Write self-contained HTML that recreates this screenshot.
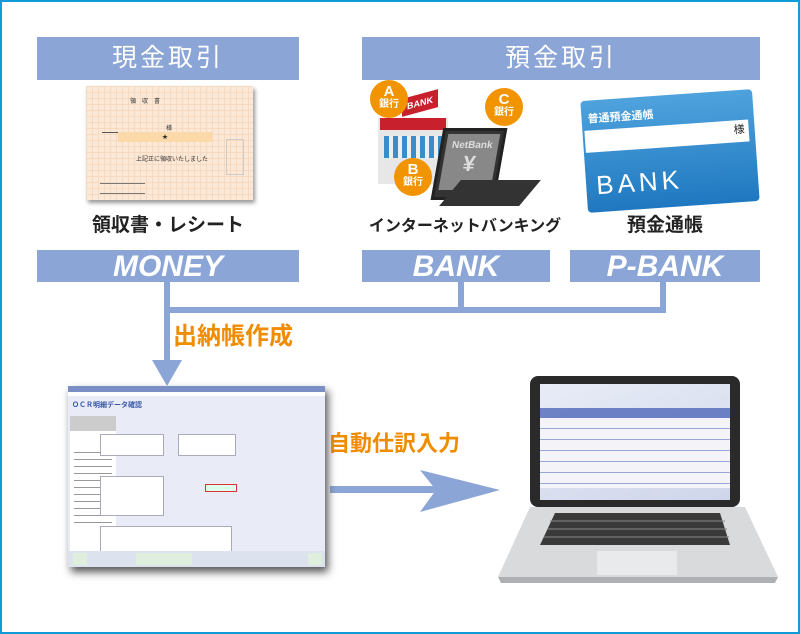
<!DOCTYPE html>
<html><head><meta charset="utf-8"><style>
body{margin:0;width:800px;height:634px;overflow:hidden;background:#fff;font-family:"Liberation Sans","Noto Sans CJK JP",sans-serif}
.f{position:absolute;left:0;top:0;width:796px;height:630px;border:2px solid #0f9bd7;}
.a{position:absolute}
.bar{position:absolute;background:#8ba5d6;color:#fff;text-align:center}
.t{position:absolute;font-weight:bold;color:#222;font-size:19px;text-align:center}
.badge{position:absolute;width:38px;height:38px;border-radius:50%;background:#f29400;color:#fff;font-weight:bold;text-align:center;font-size:10px;line-height:11px;padding-top:4px;box-sizing:border-box}
.badge b{font-size:15px;display:block;line-height:15px}
</style></head><body>
<div class="f"></div>
<div class="bar" style="left:37px;top:37px;width:262px;height:43px;font-size:25px;line-height:43px;letter-spacing:3px">現金取引</div>
<div class="bar" style="left:362px;top:37px;width:398px;height:43px;font-size:25px;line-height:43px;letter-spacing:3px">預金取引</div>

<!-- receipt -->
<div class="a" style="left:86px;top:86px;width:167px;height:114px;background:#fbe8d6;box-shadow:2px 3px 4px #999;background-image:linear-gradient(#f5d9c0 1px,transparent 1px),linear-gradient(90deg,#f5d9c0 1px,transparent 1px);background-size:6px 6px;font-size:6px;color:#333">
<div class="a" style="left:44px;top:10px">領　収　書</div>
<div class="a" style="left:16px;top:37px;width:70px;border-bottom:1px solid #555;text-align:right">様</div>
<div class="a" style="left:32px;top:46px;width:94px;height:10px;background:#fbd9a8;text-align:center">★</div>
<div class="a" style="left:50px;top:68px">上記正に領収いたしました</div>
<div class="a" style="left:140px;top:53px;width:16px;height:34px;border:1px solid #ccc"></div>
<div class="a" style="left:14px;top:92px;width:45px;border-bottom:1px solid #777;height:5px"></div>
<div class="a" style="left:14px;top:102px;width:45px;border-bottom:1px solid #777;height:5px"></div>
</div>

<!-- bank icons -->
<div class="a" style="left:378px;top:118px;width:70px;height:66px;background:#e7e7e7"></div>
<div class="a" style="left:380px;top:118px;width:66px;height:12px;background:#c8202c"></div>
<div class="a" style="left:384px;top:136px;width:58px;height:22px;background:repeating-linear-gradient(90deg,#3a8dc8 0 5px,#eee 5px 9px)"></div>
<div class="a" style="left:402px;top:94px;width:36px;height:18px;background:#c8202c;color:#fff;font-size:9px;font-weight:bold;text-align:center;line-height:18px;transform:skewY(-15deg)">BANK</div>
<div class="a" style="left:437px;top:128px;width:58px;height:66px;background:#333;transform:skewX(-10deg);border:3px solid #222"><div style="margin:3px;height:56px;background:#888;color:#ddd;font-size:10px;font-weight:bold;text-align:center;padding-top:6px;box-sizing:border-box">NetBank<br><span style="font-size:22px">¥</span></div></div>
<div class="a" style="left:450px;top:180px;width:80px;height:26px;background:#333;transform:skewX(-40deg)"></div>
<div class="badge" style="left:370px;top:80px"><b>A</b>銀行</div>
<div class="badge" style="left:485px;top:88px"><b>C</b>銀行</div>
<div class="badge" style="left:394px;top:158px"><b>B</b>銀行</div>

<!-- passbook -->
<div class="a" style="left:584px;top:95px;width:172px;height:112px;background:linear-gradient(#4fa3dd,#1f78c0);border-radius:4px;transform:rotate(-4deg);color:#fff">
<div class="a" style="left:6px;top:10px;font-size:11px;font-weight:bold">普通預金通帳</div>
<div class="a" style="left:2px;top:30px;width:164px;height:22px;background:#fff;color:#222;font-size:11px;text-align:right;line-height:20px;padding-right:4px;box-sizing:border-box">様</div>
<div class="a" style="left:10px;top:70px;font-size:26px;letter-spacing:4px">BANK</div>
</div>

<div class="t" style="left:37px;top:210px;width:262px">領収書・レシート</div>
<div class="t" style="left:355px;top:212px;width:220px;font-size:16px">インターネットバンキング</div>
<div class="t" style="left:580px;top:210px;width:170px">預金通帳</div>

<div class="bar" style="left:37px;top:250px;width:262px;height:32px;font-size:30px;font-weight:bold;font-style:italic;line-height:33px">MONEY</div>
<div class="bar" style="left:362px;top:250px;width:188px;height:32px;font-size:30px;font-weight:bold;font-style:italic;line-height:33px">BANK</div>
<div class="bar" style="left:570px;top:250px;width:190px;height:32px;font-size:30px;font-weight:bold;font-style:italic;line-height:33px">P-BANK</div>

<svg class="a" style="left:0;top:0" width="800" height="634">
<g fill="#8ba5d6">
<rect x="164" y="282" width="6" height="80"/>
<rect x="164" y="307" width="502" height="6"/>
<rect x="458" y="282" width="6" height="28"/>
<rect x="660" y="282" width="6" height="28"/>
<polygon points="152,360 182,360 167,386"/>
<rect x="330" y="486" width="110" height="7"/>
<polygon points="420,470 500,490 420,512 436,490"/>
</g></svg>
<div class="a" style="left:173px;top:316px;font-size:24px;font-weight:bold;color:#f08c00">出納帳作成</div>
<div class="a" style="left:328px;top:426px;font-size:22px;font-weight:bold;color:#f08c00">自動仕訳入力</div>

<!-- software window -->
<div class="a" style="left:68px;top:386px;width:257px;height:181px;background:#e9ecf6;box-shadow:3px 5px 8px #555;font-size:5px">
<div style="height:6px;background:#7b8fc4"></div>
<div style="height:4px;background:#fff"></div>
<div class="a" style="left:4px;top:14px;color:#3555a8;font-size:7px;font-weight:bold">ＯＣＲ明細データ確認</div>
<div class="a" style="left:2px;top:30px;width:46px;height:135px;background:#fff"></div>
<div class="a" style="left:2px;top:30px;width:46px;height:15px;background:#ccc"></div>
<div class="a" style="left:6px;top:60px;width:38px;height:80px;background:repeating-linear-gradient(#fff 0 6px,#999 6px 7px)"></div>
<div class="a" style="left:32px;top:48px;width:62px;height:20px;background:#fff;border:1px solid #aab"></div>
<div class="a" style="left:32px;top:90px;width:62px;height:38px;background:#fff;border:1px solid #aab"></div>
<div class="a" style="left:32px;top:140px;width:130px;height:25px;background:#fff;border:1px solid #aab"></div>
<div class="a" style="left:110px;top:48px;width:56px;height:20px;background:#fff;border:1px solid #aab"></div>
<div class="a" style="left:137px;top:98px;width:30px;height:6px;background:#dfe;border:1px solid #d33"></div>
<div class="a" style="left:0;top:165px;width:257px;height:16px;background:#dde2ef"></div>
<div class="a" style="left:5px;top:167px;width:14px;height:12px;background:#dfeedd"></div>
<div class="a" style="left:68px;top:167px;width:56px;height:12px;background:#dfeedd"></div>
<div class="a" style="left:240px;top:167px;width:14px;height:12px;background:#dfeedd"></div>
</div>

<!-- laptop -->
<div class="a" style="left:530px;top:376px;width:210px;height:131px;background:#2a2a2a;border-radius:8px"></div>
<div class="a" style="left:540px;top:384px;width:190px;height:116px;background:linear-gradient(160deg,#e8ecf7,#cfd6ea)"></div>
<div class="a" style="left:540px;top:408px;width:190px;height:10px;background:#4f66b9;opacity:.8"></div>
<div class="a" style="left:540px;top:418px;width:190px;height:70px;background:repeating-linear-gradient(#f3f3f8 0 10px,#9aa4d6 10px 11px)"></div>
<svg class="a" style="left:495px;top:505px" width="285" height="80">
<polygon points="35,2 250,2 283,72 3,72" fill="#d9dadc"/>
<polygon points="3,72 283,72 280,78 6,78" fill="#aeb0b3"/>
<polygon points="60,8 225,8 235,40 45,40" fill="#3a3a3a"/>
<g stroke="#888" stroke-width="1"><line x1="55" y1="16" x2="230" y2="16"/><line x1="52" y1="24" x2="232" y2="24"/><line x1="49" y1="32" x2="234" y2="32"/></g>
<rect x="102" y="46" width="80" height="24" fill="#e9eaec"/>
</svg>
</body></html>
